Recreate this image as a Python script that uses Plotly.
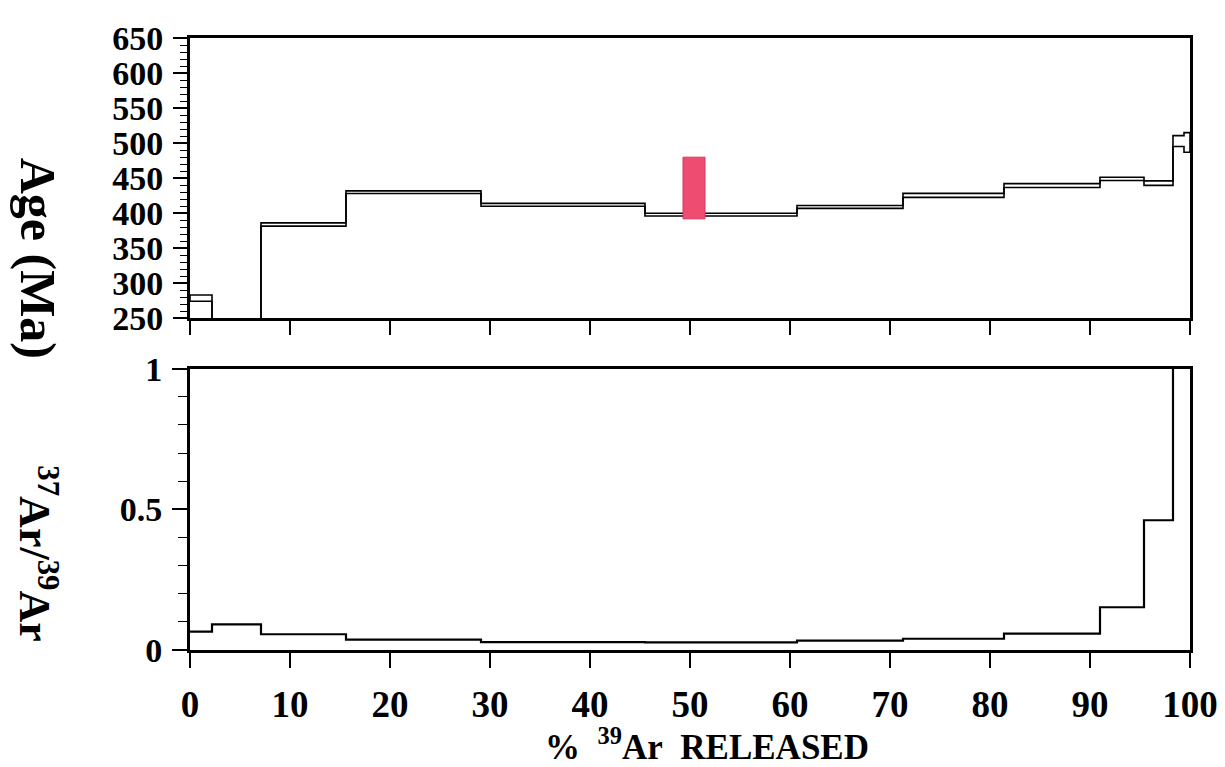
import numpy as np
import plotly.graph_objects as go

# step boundaries (% 39Ar released)
bounds = [0, 2.2, 7.1, 15.6, 29.1, 45.5, 60.7, 71.3, 81.4, 91.0, 95.4, 98.3, 99.4, 100]
# apparent ages (Ma) and half-widths of the error boxes
ages = [279, 247, 384, 430, 412, 398, 409, 425.5, 439.5, 449, 443, 503, 501]
age_err = [4.5, 2.5, 2.3, 1.9, 2.1, 2.0, 2.1, 2.8, 2.8, 2.3, 3.2, 7.7, 14.0]
# 37Ar/39Ar ratios per step (last two off scale)
ratios = [0.065, 0.091, 0.056, 0.037, 0.028, 0.027, 0.033, 0.040, 0.058, 0.152, 0.461, 1.5, 2.5]
# highlighted box
hl_x = [49.3, 51.5]
hl_age = [392, 480]

age_ticks = [250, 300, 350, 400, 450, 500, 550, 600, 650]
x_ticks = [0, 10, 20, 30, 40, 50, 60, 70, 80, 90, 100]
ratio_ticks = [0, 0.5, 1]
ratio_ticktext = ["0", "0.5", "1"]

FONT = "Liberation Serif"
BLACK = "black"

ages_a = np.array(ages)
err_a = np.array(age_err)
upper = list(ages_a + err_a)
lower = list(ages_a - err_a)

fig = go.Figure()

for series in (upper, lower):
    fig.add_trace(go.Scatter(x=bounds, y=series + [series[-1]], mode="lines",
                             line=dict(color=BLACK, width=1.6, shape="hv"),
                             xaxis="x", yaxis="y", showlegend=False, hoverinfo="skip"))
# closing vertical edges
fig.add_trace(go.Scatter(x=[bounds[0], bounds[0], None, bounds[-1], bounds[-1]],
                         y=[lower[0], upper[0], None, lower[-1], upper[-1]], mode="lines",
                         line=dict(color=BLACK, width=1.6), xaxis="x", yaxis="y",
                         showlegend=False, hoverinfo="skip"))

fig.add_trace(go.Scatter(x=bounds, y=ratios + [ratios[-1]], mode="lines",
                         line=dict(color=BLACK, width=2.2, shape="hv"),
                         xaxis="x2", yaxis="y2", showlegend=False, hoverinfo="skip"))

fig.add_shape(type="rect", xref="x", yref="y", x0=hl_x[0], x1=hl_x[1], y0=hl_age[0], y1=hl_age[1],
              fillcolor="rgb(238,76,112)", line=dict(color="rgb(214,56,92)", width=1), layer="above")

yfont = dict(family=FONT, size=34, color=BLACK, weight="bold")
xfont = dict(family=FONT, size=37, color=BLACK, weight="bold")

fig.update_layout(
    width=1225, height=767,
    margin=dict(l=182, r=43, t=20, b=125),
    paper_bgcolor="white", plot_bgcolor="white",
    xaxis=dict(domain=[0, 1], range=[0, 100], tickvals=x_ticks, showticklabels=False,
               ticks="outside", ticklen=14, tickwidth=1.6, tickcolor=BLACK,
               showline=True, linewidth=3, linecolor=BLACK, mirror=True,
               showgrid=False, zeroline=False, anchor="y"),
    yaxis=dict(domain=[0.5418, 1], range=[250, 650], tickvals=age_ticks,
               ticks="outside", ticklen=14, tickwidth=1.6, tickcolor=BLACK,
               minor=dict(dtick=10, ticks="outside", ticklen=7, tickwidth=1.2, tickcolor=BLACK, showgrid=False),
               showline=True, linewidth=3, linecolor=BLACK, mirror=True, ticklabelstandoff=3,
               showgrid=False, zeroline=False, tickfont=yfont, anchor="x"),
    xaxis2=dict(domain=[0, 1], range=[0, 100], tickvals=x_ticks,
                ticks="outside", ticklen=15, tickwidth=1.6, tickcolor=BLACK,
                showline=True, linewidth=3, linecolor=BLACK, mirror=True, ticklabelstandoff=5,
                showgrid=False, zeroline=False, tickfont=xfont, anchor="y2"),
    yaxis2=dict(domain=[0, 0.4598], range=[0, 1], tickvals=ratio_ticks, ticktext=ratio_ticktext,
                ticks="outside", ticklen=15, tickwidth=1.6, tickcolor=BLACK,
                minor=dict(dtick=0.1, ticks="outside", ticklen=9, tickwidth=1.2, tickcolor=BLACK, showgrid=False),
                showline=True, linewidth=3, linecolor=BLACK, mirror=True, ticklabelstandoff=3,
                showgrid=False, zeroline=False, tickfont=yfont, anchor="x2"),
)

fig.add_annotation(text="Age (Ma)", xref="paper", yref="paper", x=-0.152, y=0.641,
                   xanchor="center", yanchor="middle", textangle=90, showarrow=False,
                   font=dict(family=FONT, size=50, color=BLACK, weight="bold"))
fig.add_annotation(text="<sup>37</sup>Ar/<sup>39</sup>Ar", xref="paper", yref="paper", x=-0.152, y=0.158,
                   xanchor="center", yanchor="middle", textangle=90, showarrow=False,
                   font=dict(family=FONT, size=44, color=BLACK, weight="bold"))
fig.add_annotation(text="%\u00a0\u00a0<sup>39</sup>Ar\u00a0\u00a0RELEASED", xref="paper", yref="paper",
                   x=0.517, y=-0.155, xanchor="center", yanchor="middle", showarrow=False,
                   font=dict(family=FONT, size=35, color=BLACK, weight="bold"))

fig.write_html("out.html")
